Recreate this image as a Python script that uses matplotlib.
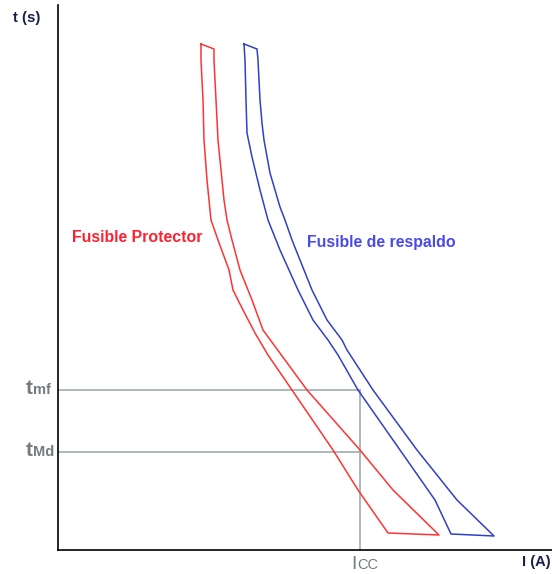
import numpy as np
import matplotlib
matplotlib.use("Agg")
import matplotlib.pyplot as plt

# curva fusible protector (banda cerrada): I y t en unidades arbitrarias
prot_I = [143, 143, 145, 146, 149, 151, 153, 160, 171, 175, 185, 197, 210, 234, 275, 300, 330,
          381,
          335, 302, 249, 227, 205, 194, 182, 174, 169, 166, 164, 160, 158, 156, 156, 143]
prot_t = [506, 490, 450, 410, 370, 350, 330, 310, 280, 260, 240, 217, 195, 160, 100, 60, 17,
          15,
          60, 100, 160, 190, 220, 250, 280, 310, 330, 350, 370, 410, 450, 490, 501, 506]

# curva fusible de respaldo
resp_I = [186, 187, 188, 189, 194, 202, 210, 222, 240, 255, 270, 280, 300, 342, 377, 393,
          436,
          399, 375, 359, 315, 289, 284, 269, 254, 234, 227, 222, 212, 206, 204, 202, 200, 199, 186]
resp_t = [506, 490, 450, 417, 393, 360, 330, 300, 260, 230, 210, 195, 160, 100, 50, 16,
          14,
          50, 80, 100, 160, 200, 210, 230, 260, 310, 330, 343, 377, 410, 427, 450, 490, 501, 506]

t_mf = 160
t_Md = 98
I_cc = 302

W, H = 552, 574
fig = plt.figure(figsize=(W / 100, H / 100), dpi=100)
x0, x1, ytop, ybot = 58, 552, 5, 550
ax = fig.add_axes([x0 / W, (H - ybot) / H, (x1 - x0) / W, (ybot - ytop) / H])
ax.set_xlim(0, x1 - x0)
ax.set_ylim(0, ybot - ytop)
for s in ["top", "right"]:
    ax.spines[s].set_visible(False)
for s in ["left", "bottom"]:
    ax.spines[s].set_linewidth(1.2)
    ax.spines[s].set_color("black")
ax.set_xticks([])
ax.set_yticks([])

grey = "#9aa5a5"
ax.plot([0, I_cc], [t_mf, t_mf], color=grey, lw=1.1)
ax.plot([0, I_cc], [t_Md, t_Md], color=grey, lw=1.1)
ax.plot([I_cc, I_cc], [0, t_mf], color=grey, lw=1.1)

ax.plot(prot_I, prot_t, color="#ff3333", lw=1.1)
ax.plot(resp_I, resp_t, color="#3040c8", lw=1.1)

fnt = "Liberation Sans"
txtgrey = "#747c80"


def px(x, y):
    # posicion en pixeles de la figura -> coordenadas de datos
    return x - x0, ybot - y


ax.text(*px(13, 18), "t (s)", fontsize=10.8, fontweight="bold", color="#1a1f4a",
        family=fnt, ha="left", va="center", clip_on=False)
ax.text(*px(522, 562), "I (A)", fontsize=10.5, fontweight="bold", color="#1a1f4a",
        family=fnt, ha="left", va="center", clip_on=False)

ax.text(*px(72, 238), "Fusible Protector", fontsize=11.4, fontweight="bold",
        color="#ff2030", family=fnt, ha="left", va="center")
ax.text(*px(307, 242), "Fusible de respaldo", fontsize=11.4, fontweight="bold",
        color="#4a4ae8", family=fnt, ha="left", va="center")

# etiquetas de los ejes con subindice
for yy, sub in [(394, "mf"), (456, "Md")]:
    ax.text(*px(33, yy), "t", fontsize=15, fontweight="bold", color=txtgrey,
            family=fnt, ha="right", va="baseline", clip_on=False)
    ax.text(*px(33, yy), sub, fontsize=10.5, fontweight="bold", color=txtgrey,
            family=fnt, ha="left", va="baseline", clip_on=False)

ax.text(*px(357, 569), "I", fontsize=14, color=txtgrey, family=fnt,
        ha="right", va="baseline", clip_on=False)
ax.text(*px(357, 569), "CC", fontsize=10.5, color=txtgrey, family=fnt,
        ha="left", va="baseline", clip_on=False)

fig.savefig("out.png", dpi=100)
